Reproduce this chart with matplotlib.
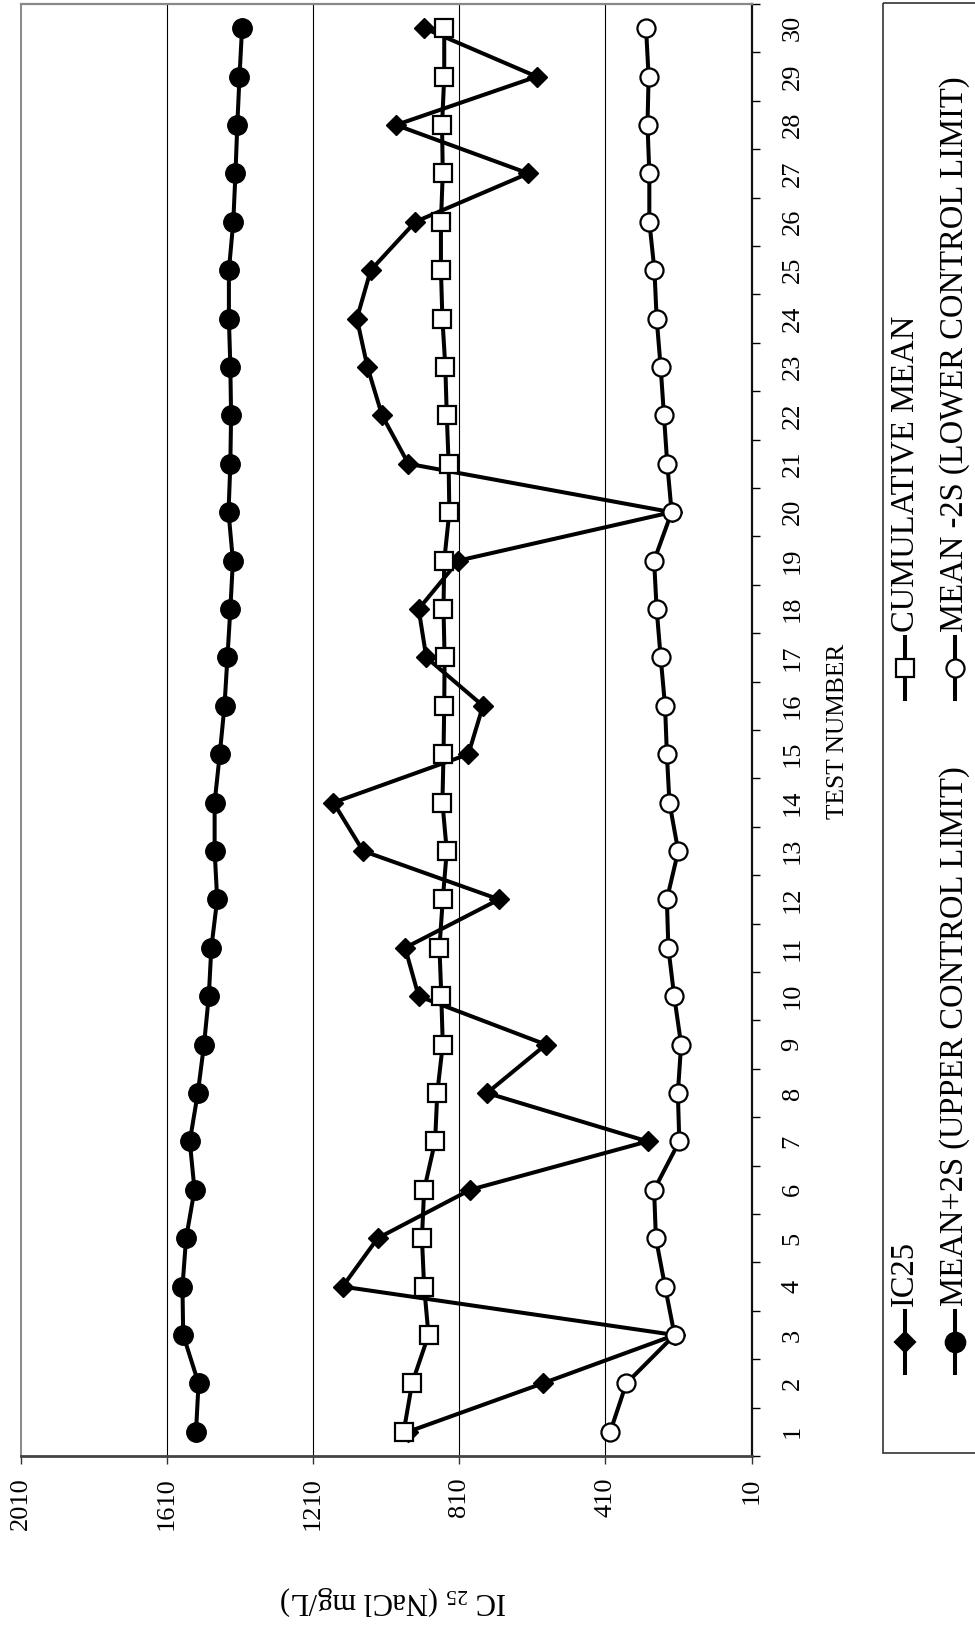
import matplotlib
matplotlib.use("Agg")
import matplotlib.pyplot as plt
from matplotlib.lines import Line2D
from matplotlib.patches import Rectangle
import numpy as np

plt.rcParams['font.family'] = ['Liberation Serif', 'DejaVu Serif']
plt.rcParams['mathtext.fontset'] = 'custom'
plt.rcParams['mathtext.rm'] = 'Liberation Serif'
plt.rcParams['mathtext.it'] = 'Liberation Serif:italic'

# ---- data ----
test_number = list(range(1, 31))
ic25 = [950, 582, 220, 1129, 1033, 780, 295, 734, 573, 921,
        958, 701, 1073, 1154, 785, 745, 900, 921, 812, 229,
        949, 1021, 1061, 1090, 1052, 930, 621, 983, 598, 906]
cum_mean = [962, 939, 894, 906, 912, 906, 876, 870, 855, 859,
            864, 855, 844, 856, 853, 851, 850, 853, 851, 837,
            839, 844, 848, 856, 860, 860, 855, 857, 851, 851]
mean_plus_2s = [1530, 1523, 1565, 1567, 1557, 1534, 1547, 1525, 1508, 1495,
                1488, 1472, 1479, 1479, 1465, 1452, 1444, 1436, 1429, 1441,
                1436, 1434, 1436, 1440, 1440, 1428, 1422, 1417, 1411, 1404]
mean_minus_2s = [397, 353, 221, 247, 272, 277, 208, 212, 203, 222,
                 238, 242, 211, 235, 242, 247, 259, 270, 277, 229,
                 241, 250, 259, 270, 276, 290, 290, 295, 292, 299]
value_ticks = [2010, 1610, 1210, 810, 410, 10]
legend_labels = ["IC25", "MEAN+2S (UPPER CONTROL LIMIT)",
                 "CUMULATIVE MEAN", "MEAN -2S (LOWER CONTROL LIMIT)"]

W, H = 975, 1627
fig = plt.figure(figsize=(W / 100, H / 100), dpi=100)

# axes in pixel coordinates
ax_l, ax_r, ax_t, ax_b = 20.5, 751.7, 4.0, 1456.0
ax = fig.add_axes([ax_l / W, 1 - ax_b / H, (ax_r - ax_l) / W, (ax_b - ax_t) / H])

lw = 2.9
ax.plot(ic25, test_number, color='black', lw=lw, marker='D', ms=10.5,
        mfc='black', mec='black', zorder=3)
ax.plot(cum_mean, test_number, color='black', lw=lw, marker='s', ms=12.5,
        mfc='white', mec='black', mew=1.6, zorder=4)
ax.plot(mean_plus_2s, test_number, color='black', lw=lw, marker='o', ms=14,
        mfc='black', mec='black', zorder=4)
ax.plot(mean_minus_2s, test_number, color='black', lw=lw, marker='o', ms=13,
        mfc='white', mec='black', mew=1.6, zorder=5)

ax.set_xlim(2010, 10)
ax.set_ylim(0.5, 30.5)

# value axis (bottom)
ax.set_xticks(value_ticks)
ax.set_xticklabels([str(v) for v in value_ticks], rotation=90)
ax.tick_params(axis='x', direction='out', length=5.8, width=1.0, pad=9.5,
               labelsize=19, color='#333333')
for v in value_ticks[1:-1]:
    ax.axvline(v, color='black', lw=0.8, zorder=1)

# category axis (right)
ax.yaxis.tick_right()
ax.set_yticks(np.arange(0.5, 31.0, 1.0))
ax.set_yticklabels([])
ax.set_yticks(test_number, minor=True)
ax.set_yticklabels([str(t) for t in test_number], minor=True, rotation=90,
                   va='center')
ax.tick_params(axis='y', which='major', direction='out', length=5.8, width=1.0,
               color='black', right=True, left=False)
ax.tick_params(axis='y', which='minor', length=0, pad=21.5, labelsize=19,
               right=True, left=False)

for side, col, w in [('left', '#888888', 1.4), ('top', '#888888', 1.6),
                     ('bottom', '#444444', 2.0), ('right', '#111111', 1.6)]:
    ax.spines[side].set_color(col)
    ax.spines[side].set_linewidth(w)

# axis titles
fig.text(838 / W, 1 - 731 / H, "TEST NUMBER", rotation=90, ha='center',
         va='center', fontsize=18.3)
fig.text(393 / W, 1 - 1601 / H, r"IC $_{\mathrm{25}}$ (NaCl mg/L)", rotation=180,
         ha='center', va='center', fontsize=22)

# legend (drawn in a pixel overlay)
ov = fig.add_axes([0, 0, 1, 1], facecolor='none')
ov.set_xlim(0, W)
ov.set_ylim(H, 0)
ov.axis('off')
ov.add_patch(Rectangle((882.7, 2.7), 200, 1450.6, fill=False,
                       edgecolor='#333333', lw=1.2))

entries = [
    (905, 1342, 'D', 10.5, 'black', legend_labels[0]),
    (955, 1342, 'o', 14, 'black', legend_labels[1]),
    (905, 668, 's', 12.5, 'white', legend_labels[2]),
    (955, 668, 'o', 13, 'white', legend_labels[3]),
]
for x, ym, mk, ms, fc, lab in entries:
    ov.add_line(Line2D([x, x], [ym - 31, ym + 31], color='black', lw=lw))
    ov.add_line(Line2D([x], [ym], marker=mk, ms=ms, mfc=fc, mec='black',
                       mew=1.6, lw=0))
    ov.text(x, ym - 36, lab, rotation=90, ha='center', va='bottom',
            fontsize=23.5)

fig.savefig("out.png", dpi=100)
